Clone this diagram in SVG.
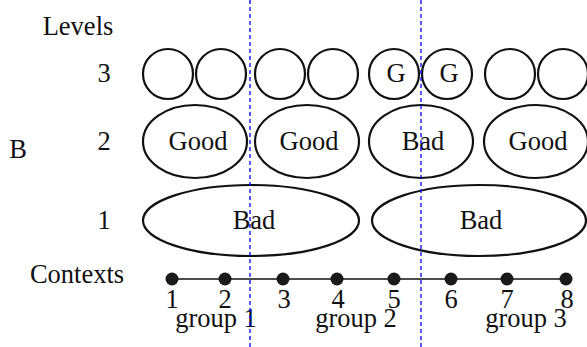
<svg xmlns="http://www.w3.org/2000/svg" width="587" height="347" viewBox="0 0 587 347">
<style>
text{font-family:"Liberation Serif","DejaVu Serif",serif;font-size:26.5px;fill:#111;text-anchor:middle}
.n{fill:none;stroke:#111;stroke-width:2.2}
.dot{fill:#1a1a1a}
.sep{stroke:#0000ff;stroke-width:1.3;stroke-dasharray:4,3}
</style>
<rect width="587" height="347" fill="#fff"/>
<g id="labels">
<text x="78" y="35">Levels</text>
<text x="104" y="82">3</text>
<text x="104" y="150">2</text>
<text x="104" y="229">1</text>
<text x="18" y="158">B</text>
<text x="77" y="283">Contexts</text>
</g>
<g id="level3">
<g id="c1"><circle class="n" cx="168" cy="74" r="25"/></g>
<g id="c2"><circle class="n" cx="221" cy="74" r="25"/></g>
<g id="c3"><circle class="n" cx="280" cy="74" r="25"/></g>
<g id="c4"><circle class="n" cx="333" cy="74" r="25"/></g>
<g id="c5"><circle class="n" cx="394" cy="74" r="25"/><text x="396" y="82">G</text></g>
<g id="c6"><circle class="n" cx="447" cy="74" r="25"/><text x="449" y="82">G</text></g>
<g id="c7"><circle class="n" cx="510" cy="74" r="25"/></g>
<g id="c8"><circle class="n" cx="563" cy="74" r="25"/></g>
</g>
<g id="level2">
<g id="e1"><ellipse class="n" cx="195" cy="141.5" rx="52" ry="36.5"/><text x="198" y="150">Good</text></g>
<g id="e2"><ellipse class="n" cx="307" cy="141.5" rx="52" ry="36.5"/><text x="309" y="150">Good</text></g>
<g id="e3"><ellipse class="n" cx="421" cy="141.5" rx="52" ry="36.5"/><text x="423" y="150">Bad</text></g>
<g id="e4"><ellipse class="n" cx="536" cy="141.5" rx="52" ry="36.5"/><text x="538" y="150">Good</text></g>
</g>
<g id="level1">
<g id="b1"><ellipse class="n" cx="251" cy="220.5" rx="108" ry="35.5"/><text x="254" y="229">Bad</text></g>
<g id="b2"><ellipse class="n" cx="479" cy="220.5" rx="107" ry="35.5"/><text x="481" y="229">Bad</text></g>
</g>
<g id="connectors">
<line x1="172" y1="279" x2="566" y2="279" stroke="#111" stroke-width="1.4"/>
</g>
<g id="contexts">
<circle class="dot" cx="172" cy="279" r="6.5"/>
<circle class="dot" cx="225" cy="279" r="6.5"/>
<circle class="dot" cx="283" cy="279" r="6.5"/>
<circle class="dot" cx="337" cy="279" r="6.5"/>
<circle class="dot" cx="394" cy="279" r="6.5"/>
<circle class="dot" cx="451" cy="279" r="6.5"/>
<circle class="dot" cx="507" cy="279" r="6.5"/>
<circle class="dot" cx="566" cy="279" r="6.5"/>
<text x="172" y="308">1</text>
<text x="225" y="308">2</text>
<text x="284" y="308">3</text>
<text x="338" y="308">4</text>
<text x="394" y="308">5</text>
<text x="451" y="308">6</text>
<text x="507" y="308">7</text>
<text x="567" y="308">8</text>
<text x="216" y="327">group 1</text>
<text x="356" y="327">group 2</text>
<text x="526" y="327">group 3</text>
</g>
<g id="separators">
<line class="sep" x1="250" y1="0" x2="250" y2="347"/>
<line class="sep" x1="421" y1="0" x2="421" y2="347"/>
</g>
</svg>
